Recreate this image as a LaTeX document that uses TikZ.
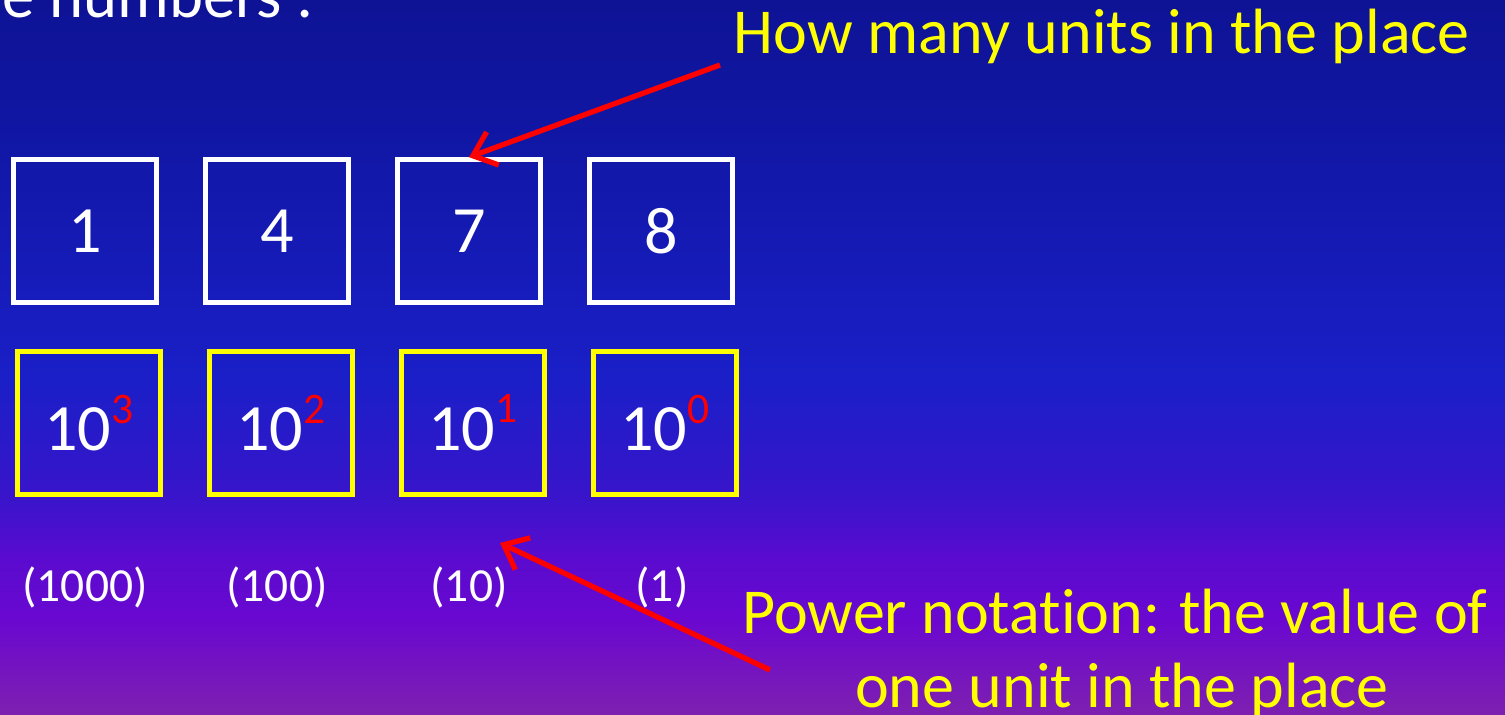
\documentclass[tikz,border=0pt]{standalone}
\usepackage{fontspec}
\setmainfont{Carlito}[Ligatures={CommonOff,ContextualOff}]
\usetikzlibrary{arrows.meta}
\definecolor{bgA}{HTML}{0E1395}
\definecolor{bgB}{HTML}{1016A2}
\definecolor{bgC}{HTML}{1A1FC8}
\definecolor{bgD}{HTML}{3A14CB}
\definecolor{bgE}{HTML}{5A0BCF}
\definecolor{bgF}{HTML}{6A08D0}
\definecolor{bgG}{HTML}{7E20B0}
\definecolor{ylw}{HTML}{FFFF00}
\definecolor{rd}{HTML}{FF0000}
\pgfdeclareverticalshading{bgshade}{100bp}{%
  color(0bp)=(bgG); color(25bp)=(bgG); color(31.6bp)=(bgF); color(36bp)=(bgE);
  color(40bp)=(bgD); color(48.4bp)=(bgC); color(66.6bp)=(bgB); color(75bp)=(bgA); color(100bp)=(bgA)}
\tikzset{
  digitbox/.style={draw=white, line width=1.3pt, minimum width=1.43cm, minimum height=1.43cm, inner sep=0pt, text=white, font=\fontsize{18.8}{22}\selectfont},
  powbox/.style={draw=ylw, line width=1.4pt, minimum width=1.43cm, minimum height=1.43cm, inner sep=0pt, text=white, font=\fontsize{18.8}{22}\selectfont},
  vallabel/.style={text=white, inner sep=0pt, font=\fontsize{13.5}{16}\selectfont},
  callout/.style={text=ylw, inner sep=0pt, font=\fontsize{18.2}{22}\selectfont},
  pointer/.style={draw=rd, line width=1.5pt, -{Straight Barb[length=6pt,width=10pt,line width=1.5pt]}}
}
\newcommand{\redsup}[1]{\raisebox{0.42em}{\fontsize{12.4}{14}\selectfont\textcolor{rd}{#1}}}
\begin{document}
\begin{tikzpicture}[x=0.01cm,y=-0.01cm]
\useasboundingbox (0,0) rectangle (1505,715);
\clip (0,0) rectangle (1505,715);
\shade[shading=bgshade] (0,0) rectangle (1505,715);
\node[text=white, inner sep=0pt, anchor=base west, font=\fontsize{18.4}{22}\selectfont] (title) at (2,18) {e numbers :};
% digit boxes
\node[digitbox] (w1) at (85,231) {1};
\node[digitbox] (w2) at (277,231) {4};
\node[digitbox] (w3) at (469,231) {7};
\node[digitbox] (w4) at (661,231) {8};
% power boxes
\node[powbox] (p1) at (89,423) {10\redsup{3}};
\node[powbox] (p2) at (281,423) {10\redsup{2}};
\node[powbox] (p3) at (473,423) {10\redsup{1}};
\node[powbox] (p4) at (665,423) {10\redsup{0}};
% values
\node[vallabel] (v1) at (85,587) {(1000)};
\node[vallabel] (v2) at (277,587) {(100)};
\node[vallabel] (v3) at (469,587) {(10)};
\node[vallabel] (v4) at (662,587) {(1)};
% callouts
\node[callout, anchor=base west] (c1) at (733,54) {How many units in the place};
\node[callout, anchor=base] (c2a) at (1115,633) {Power notat\kern0pt ion: the value of};
\node[callout, anchor=base] (c2b) at (1122,707) {one unit in the place};
% arrows
\coordinate (s1) at (720,65);
\coordinate (s2) at (770,670);
\coordinate (t2) at (500,543);
\draw[pointer] (s1) -- (w3.north);
\draw[pointer] (s2) -- (t2);
\end{tikzpicture}
\end{document}
